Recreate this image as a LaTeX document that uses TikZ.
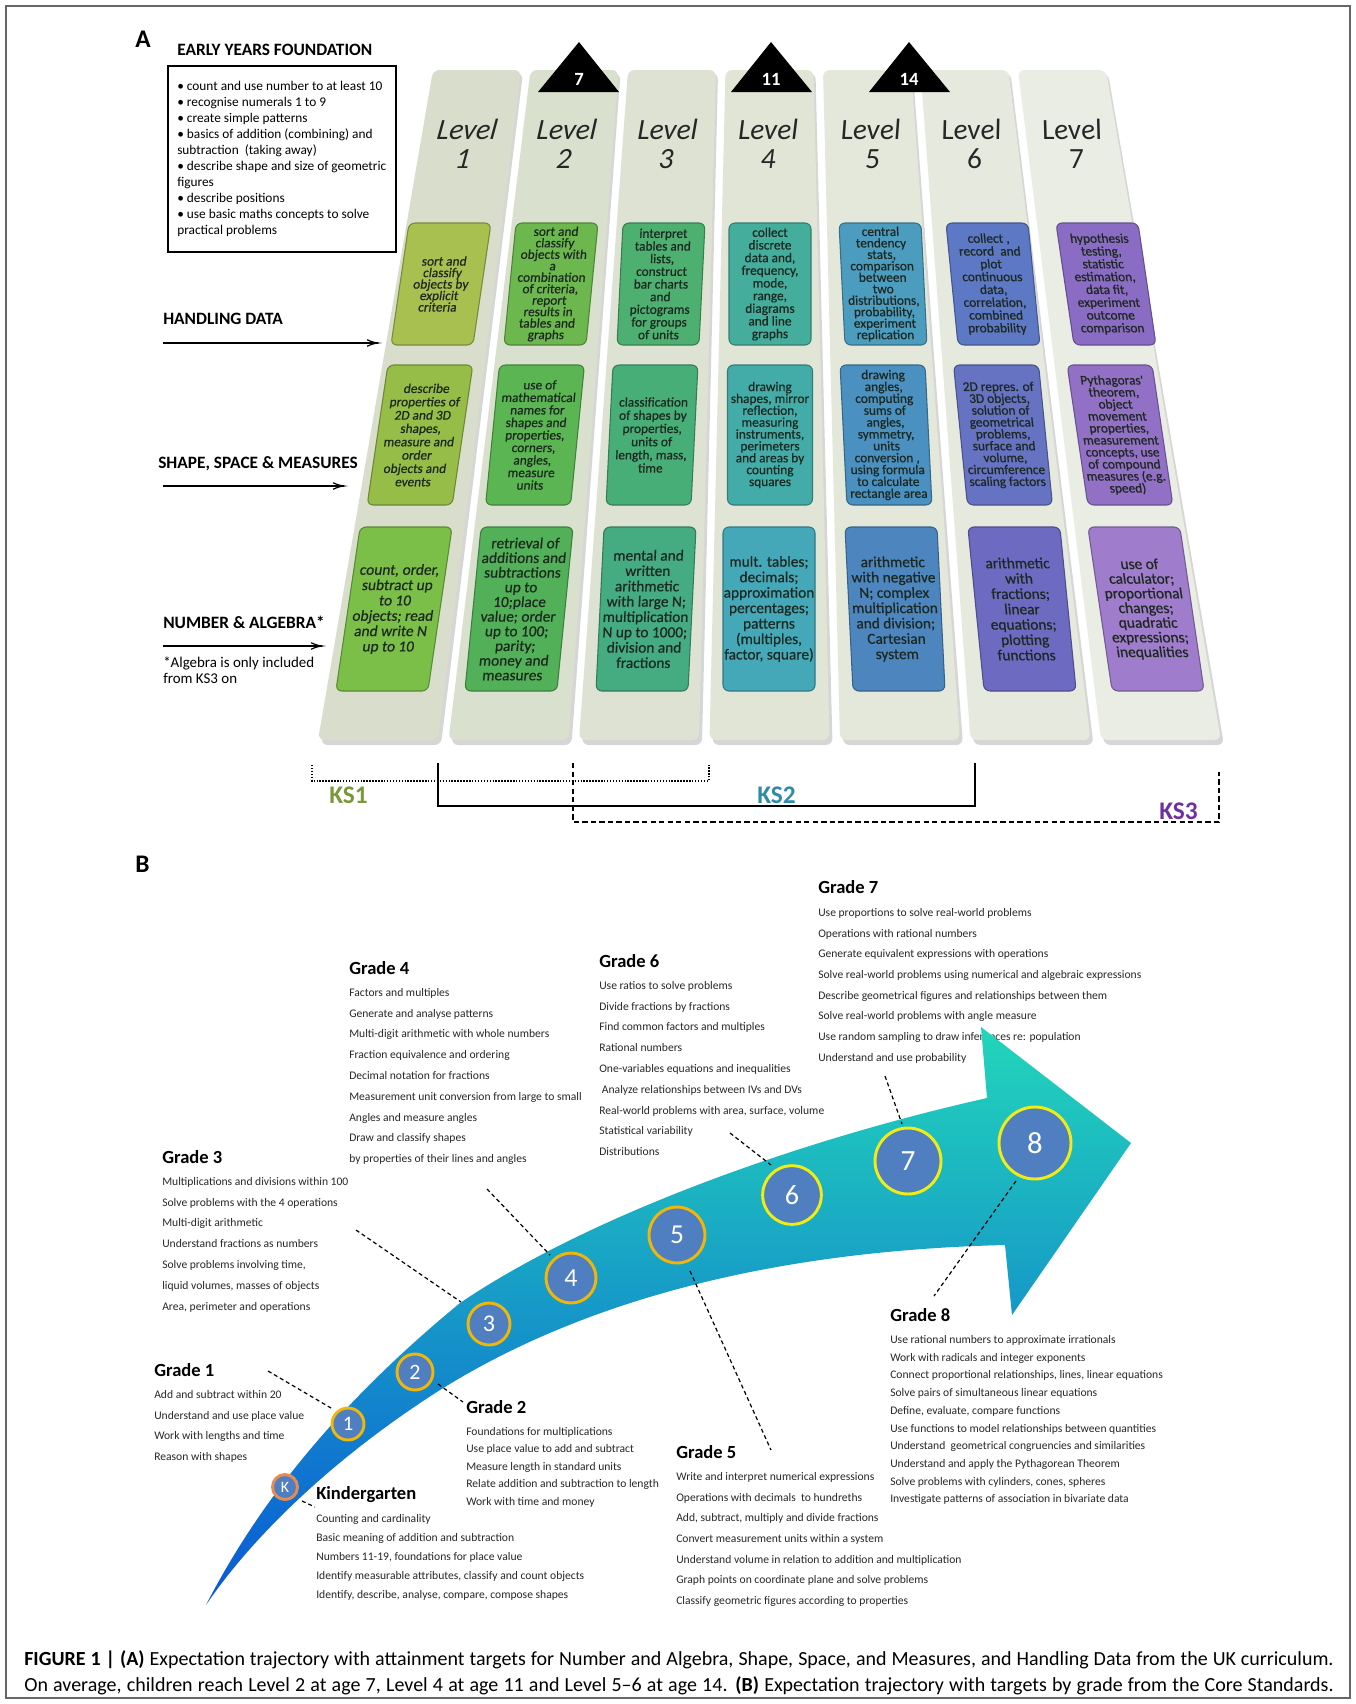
\documentclass[tikz,border=0pt]{standalone}
\usepackage{amssymb, mathtools, amsmath}
\usepackage{fontspec}
\setmainfont{Carlito}
\newfontfamily\boxfam[FakeBold=0.5]{Carlito}
\usepackage{tikz}

\newcommand{\bxfont}[2]{\fontsize{#1}{#2}\selectfont\lineskiplimit=-100pt\lineskip=0pt}

\definecolor{boxtext}{RGB}{28,40,32}
\definecolor{itemgray}{RGB}{40,40,40}
\definecolor{circfill}{RGB}{79,127,192}
\definecolor{ringgold}{RGB}{240,182,10}
\definecolor{ringlemon}{RGB}{240,236,20}
\definecolor{ringorange}{RGB}{230,140,80}
\definecolor{arrowtop}{RGB}{34,214,186}
\definecolor{arrowmid}{RGB}{18,172,228}
\definecolor{arrowbot}{RGB}{10,88,214}
\definecolor{ksone}{RGB}{122,154,58}
\definecolor{kstwo}{RGB}{46,140,168}
\definecolor{ksthree}{RGB}{112,48,160}
\definecolor{colone}{RGB}{216,222,203}
\definecolor{coltwo}{RGB}{218,224,206}
\definecolor{colthree}{RGB}{221,226,210}
\definecolor{colfour}{RGB}{224,229,214}
\definecolor{colfive}{RGB}{227,232,218}
\definecolor{colsix}{RGB}{230,234,222}
\definecolor{colseven}{RGB}{234,237,227}
\definecolor{hdc1}{RGB}{168,192,80}
\definecolor{hdc2}{RGB}{108,184,78}
\definecolor{hdc3}{RGB}{77,176,112}
\definecolor{hdc4}{RGB}{69,173,156}
\definecolor{hdc5}{RGB}{76,156,192}
\definecolor{hdc6}{RGB}{93,120,196}
\definecolor{hdc7}{RGB}{139,108,196}
\definecolor{ssc1}{RGB}{150,189,72}
\definecolor{ssc2}{RGB}{90,181,82}
\definecolor{ssc3}{RGB}{72,174,120}
\definecolor{ssc4}{RGB}{68,172,168}
\definecolor{ssc5}{RGB}{74,144,192}
\definecolor{ssc6}{RGB}{102,114,194}
\definecolor{ssc7}{RGB}{146,112,198}
\definecolor{nac1}{RGB}{124,191,72}
\definecolor{nac2}{RGB}{82,176,88}
\definecolor{nac3}{RGB}{69,171,128}
\definecolor{nac4}{RGB}{69,168,184}
\definecolor{nac5}{RGB}{77,134,191}
\definecolor{nac6}{RGB}{109,106,194}
\definecolor{nac7}{RGB}{160,124,204}

\begin{document}
\begin{tikzpicture}[x=0.75pt,y=0.75pt,yscale=-1,xscale=1,
  column/.style={fill=#1, rounded corners=5pt},
  colshadow/.style={fill=black!45, fill opacity=0.35, rounded corners=5pt},
  lvbox/.style={fill=#1, draw=#1!72!black, line width=0.8pt, rounded corners=4.5pt, inner sep=0pt, align=center, text=boxtext, execute at begin node=\boxfam},
  rowone/.style={minimum width=61.5pt, minimum height=91.5pt},
  rowtwo/.style={minimum width=63.75pt, minimum height=105pt},
  rowthree/.style={minimum width=69pt, minimum height=123pt},
  lvlabel/.style={anchor=north, inner sep=0pt, align=center, text=black!85, font=\itshape\bxfont{22}{21.75}},
  heading/.style={anchor=base west, inner sep=0pt, font=\bfseries\fontsize{13}{13}\selectfont},
  agenum/.style={text=white, inner sep=0pt, font=\bfseries\fontsize{14}{14}\selectfont},
  kslabel/.style={anchor=base west, inner sep=0pt, text=#1, font=\bfseries\fontsize{19}{19}\selectfont},
  gradehead/.style={anchor=base west, inner sep=0pt, font=\bfseries\fontsize{13.9}{14}\selectfont},
  gradelist/.style={anchor=north west, inner sep=0pt, align=left, text=itemgray, font=\bxfont{8.7}{#1}},
  gcirc/.style={circle, fill=circfill, draw=#1, line width=2.2pt, text=white, inner sep=0pt},
  leader/.style={dash pattern=on 3pt off 2.2pt, line width=0.9pt}
  ]
\useasboundingbox (0,0) rectangle (1356,1704);
\fill [white] (0,0) rectangle (1356,1704);
%Shape: Frame
\draw [color=black!60, line width=0.8pt] (6,6) rectangle (1350,1698);

% Panel A
\node [anchor=base west, inner sep=0pt, font=\bfseries\fontsize{19}{19}\selectfont] (labA) at (135,47) {A};
\node [heading] (eyfTitle) at (177,55.5) {EARLY YEARS FOUNDATION};
%Shape: Rectangle
\draw [line width=1.2pt] (168,66) rectangle (396,252);
% Text Node
\node [anchor=north west, inner sep=0pt, align=left, font=\bxfont{10}{12}] (eyfList) at (177,80.5) {• count and use number to at least 10\\• recognise numerals 1 to 9\\• create simple patterns\\• basics of addition (combining) and\\subtraction~ (taking away)\\• describe shape and size of geometric\\figures\\• describe positions\\• use basic maths concepts to solve\\practical problems};

%Shape: Columns
\fill [colshadow] (435,73) -- (523,73) -- (441,745) -- (321,745) -- cycle;
\fill [column=colone] (433,70) -- (521,70) -- (438,740) -- (318,740) -- cycle;
\fill [colshadow] (532.5,73) -- (620.5,73) -- (571.5,745) -- (451.5,745) -- cycle;
\fill [column=coltwo] (530.5,70) -- (618.5,70) -- (568.5,740) -- (448.5,740) -- cycle;
\fill [colshadow] (630,73) -- (718,73) -- (702,745) -- (582,745) -- cycle;
\fill [column=colthree] (628,70) -- (716,70) -- (699,740) -- (579,740) -- cycle;
\fill [colshadow] (727.5,73) -- (815.5,73) -- (832.5,745) -- (712.5,745) -- cycle;
\fill [column=colfour] (725.5,70) -- (813.5,70) -- (829.5,740) -- (709.5,740) -- cycle;
\fill [colshadow] (825,73) -- (913,73) -- (963,745) -- (843,745) -- cycle;
\fill [column=colfive] (823,70) -- (911,70) -- (960,740) -- (840,740) -- cycle;
\fill [colshadow] (922.5,73) -- (1010.5,73) -- (1093.5,745) -- (973.5,745) -- cycle;
\fill [column=colsix] (920.5,70) -- (1008.5,70) -- (1090.5,740) -- (970.5,740) -- cycle;
\fill [colshadow] (1020,73) -- (1108,73) -- (1224,745) -- (1104,745) -- cycle;
\fill [column=colseven] (1018,70) -- (1106,70) -- (1221,740) -- (1101,740) -- cycle;

%Shape: Triangles
\fill [black] (538,92) -- (579,42) -- (619,92) -- cycle;
\fill [black] (731,92) -- (771,42) -- (812,92) -- cycle;
\fill [black] (869,92) -- (909,42) -- (950,92) -- cycle;
\node [agenum] (ageSeven) at (579,79) {7};
\node [agenum] (ageEleven) at (771,79) {11};
\node [agenum] (ageFourteen) at (909,79) {14};

% Level labels
\node [lvlabel, xslant=0.148] (lv1) at (469,118.5) {Level\\1};
\node [lvlabel, xslant=0.099] (lv2) at (568,118.5) {Level\\2};
\node [lvlabel, xslant=0.049] (lv3) at (668,118.5) {Level\\3};
\node [lvlabel] (lv4) at (768,118.5) {Level\\4};
\node [lvlabel, xslant=-0.049] (lv5) at (870,118.5) {Level\\5};
\node [lvlabel, xslant=-0.099] (lv6) at (970,118.5) {Level\\6};
\node [lvlabel, xslant=-0.148] (lv7) at (1070,118.5) {Level\\7};

% Row labels
\node [heading] (hdTitle) at (163,324) {HANDLING DATA};
\node [heading] (ssTitle) at (158,468) {SHAPE, SPACE \& MEASURES};
\node [heading] (naTitle) at (163,628) {NUMBER \& ALGEBRA*};
\node [anchor=north west, inner sep=0pt, align=left, font=\bxfont{11.2}{12.4}] (naNote) at (163,656.5) {*Algebra is only included\\from KS3 on};
%Straight Lines
\coordinate (hdTail) at (163,343);
\coordinate (hdHead) at (378,343);
\draw [line width=0.9pt] (hdTail) -- (hdHead);
\draw [shift={(378,343)}, rotate = 180] [line width=0.9pt] (10.93,-3.29) .. controls (6.95,-1.4) and (3.31,-0.3) .. (0,0) .. controls (3.31,0.3) and (6.95,1.4) .. (10.93,3.29);
%Straight Lines
\coordinate (ssTail) at (163,486);
\coordinate (ssHead) at (344,486);
\draw [line width=0.9pt] (ssTail) -- (ssHead);
\draw [shift={(344,486)}, rotate = 180] [line width=0.9pt] (10.93,-3.29) .. controls (6.95,-1.4) and (3.31,-0.3) .. (0,0) .. controls (3.31,0.3) and (6.95,1.4) .. (10.93,3.29);
%Straight Lines
\coordinate (naTail) at (163,646);
\coordinate (naHead) at (322,646);
\draw [line width=0.9pt] (naTail) -- (naHead);
\draw [shift={(322,646)}, rotate = 180] [line width=0.9pt] (10.93,-3.29) .. controls (6.95,-1.4) and (3.31,-0.3) .. (0,0) .. controls (3.31,0.3) and (6.95,1.4) .. (10.93,3.29);

% Handling data boxes
\node [lvbox=hdc1, rowone, xslant=0.148, font=\bxfont{10}{8.6}] (hd1) at (441,284) {sort and\\classify\\objects by\\explicit\\criteria};
\node [lvbox=hdc2, rowone, xslant=0.099, font=\bxfont{10}{8.6}] (hd2) at (551,284) {sort and\\classify\\objects with\\a\\combination\\of criteria,\\report\\results in\\tables and\\graphs};
\node [lvbox=hdc3, rowone, xslant=0.049, font=\bxfont{10}{9.5}] (hd3) at (661,284) {interpret\\tables and\\lists,\\construct\\bar charts\\and\\pictograms\\for groups\\of units};
\node [lvbox=hdc4, rowone, font=\bxfont{10}{9.5}] (hd4) at (770,284) {collect\\discrete\\data and,\\frequency,\\mode,\\range,\\diagrams\\and line\\graphs};
\node [lvbox=hdc5, rowone, xslant=-0.049, font=\bxfont{10}{8.6}] (hd5) at (883,284) {central\\tendency\\stats,\\comparison\\between\\two\\distributions,\\probability,\\experiment\\replication};
\node [lvbox=hdc6, rowone, xslant=-0.099, font=\bxfont{10}{9.6}] (hd6) at (993,284) {collect ,\\record~ and\\plot\\continuous\\data,\\correlation,\\combined\\probability};
\node [lvbox=hdc7, rowone, xslant=-0.148, font=\bxfont{10}{9.6}] (hd7) at (1106,284) {hypothesis\\testing,\\statistic\\estimation,\\data fit,\\experiment\\outcome\\comparison};

% Shape, space and measures boxes
\node [lvbox=ssc1, rowtwo, xslant=0.148, font=\bxfont{10}{10}] (ss1) at (420,435) {describe\\properties of\\2D and 3D\\shapes,\\measure and\\order\\objects and\\events};
\node [lvbox=ssc2, rowtwo, xslant=0.099, font=\bxfont{10}{9.4}] (ss2) at (535,435) {use of\\mathematical\\names for\\shapes and\\properties,\\corners,\\angles,\\measure\\units};
\node [lvbox=ssc3, rowtwo, xslant=0.049, font=\bxfont{10}{9.9}] (ss3) at (652,435) {classification\\of shapes by\\properties,\\units of\\length, mass,\\time};
\node [lvbox=ssc4, rowtwo, font=\bxfont{10}{8.9}] (ss4) at (770,435) {drawing\\shapes, mirror\\reflection,\\measuring\\instruments,\\perimeters\\and areas by\\counting\\squares};
\node [lvbox=ssc5, rowtwo, xslant=-0.049, font=\bxfont{10}{8.9}] (ss5) at (886,435) {drawing\\angles,\\computing\\sums of\\angles,\\symmetry,\\units\\conversion ,\\using formula\\to calculate\\rectangle area};
\node [lvbox=ssc6, rowtwo, xslant=-0.099, font=\bxfont{10}{8.9}] (ss6) at (1003,435) {2D repres. of\\3D objects,\\solution of\\geometrical\\problems,\\surface and\\volume,\\circumference\\scaling factors};
\node [lvbox=ssc7, rowtwo, xslant=-0.148, font=\bxfont{10}{9}] (ss7) at (1120,435) {Pythagoras'\\theorem,\\object\\movement\\properties,\\measurement\\concepts, use\\of compound\\measures (e.g.\\speed)};

% Number and algebra boxes
\node [lvbox=nac1, rowthree, xslant=0.148, font=\bxfont{11.5}{11.5}] (na1) at (394,609) {count, order,\\subtract up\\to 10\\objects; read\\and write N\\up to 10};
\node [lvbox=nac2, rowthree, xslant=0.099, font=\bxfont{11.5}{11}] (na2) at (519,609) {retrieval of\\additions and\\subtractions\\up to\\10;place\\value; order\\up to 100;\\parity;\\money and\\measures};
\node [lvbox=nac3, rowthree, xslant=0.049, font=\bxfont{11.5}{11.5}] (na3) at (646,609) {mental and\\written\\arithmetic\\with large N;\\multiplication\\N up to 1000;\\division and\\fractions};
\node [lvbox=nac4, rowthree, font=\bxfont{11.5}{11.6}] (na4) at (769,609) {mult. tables;\\decimals;\\approximation\\percentages;\\patterns\\(multiples,\\factor, square)};
\node [lvbox=nac5, rowthree, xslant=-0.049, font=\bxfont{11.5}{11.5}] (na5) at (895,609) {arithmetic\\with negative\\N; complex\\multiplication\\and division;\\Cartesian\\system};
\node [lvbox=nac6, rowthree, xslant=-0.099, font=\bxfont{11.5}{11.5}] (na6) at (1022,609) {arithmetic\\with\\fractions;\\linear\\equations;\\plotting\\functions};
\node [lvbox=nac7, rowthree, xslant=-0.148, font=\bxfont{11.5}{11}] (na7) at (1146,609) {use of\\calculator;\\proportional\\changes;\\quadratic\\expressions;\\inequalities};

% Key stage brackets
\draw [dash pattern=on 1.1pt off 1.1pt, line width=1.4pt] (312,765) -- (312,781) -- (709,781) -- (709,765);
\draw [line width=1.3pt] (438,763) -- (438,806) -- (975,806) -- (975,763);
\draw [dash pattern=on 4pt off 2.4pt, line width=1.3pt] (573,763) -- (573,822) -- (1219,822) -- (1219,772);
\node [kslabel=ksone] (ksOne) at (329,803) {KS1};
\node [kslabel=kstwo] (ksTwo) at (757,803) {KS2};
\node [kslabel=ksthree] (ksThree) at (1159,819) {KS3};

% Panel B
\node [anchor=base west, inner sep=0pt, font=\bfseries\fontsize{19}{19}\selectfont] (labB) at (135,872) {B};

% Text Node
\node [gradehead] (gSevenHead) at (818,893) {Grade 7};
\node [gradelist=15.5] (gSevenList) at (818,908) {Use proportions to solve real-world problems\\Operations with rational numbers\\Generate equivalent expressions with operations\\Solve real-world problems using numerical and algebraic expressions\\Describe geometrical figures and relationships between them\\Solve real-world problems with angle measure\\Use random sampling to draw inferences re: population\\Understand and use probability};

%Shape: Arrow
\path [top color=arrowtop, middle color=arrowmid, bottom color=arrowbot] (206,1605) .. controls (255,1510) and (330,1410) .. (460,1303) .. controls (590,1215) and (800,1140) .. (987,1098) -- (981,1027) -- (1131,1143) -- (1012,1315) -- (1005,1245) .. controls (800,1250) and (600,1290) .. (440,1390) .. controls (330,1460) and (250,1540) .. (206,1605) -- cycle;

% Grade circles
\node [gcirc=ringorange, minimum size=18.75pt, font=\fontsize{12}{12}\selectfont] (gK) at (285,1487) {K};
\node [gcirc=ringgold, minimum size=24pt, font=\fontsize{15.5}{15.5}\selectfont] (g1) at (348,1424) {1};
\node [gcirc=ringgold, minimum size=27pt, font=\fontsize{16.5}{16.5}\selectfont] (g2) at (415,1372) {2};
\node [gcirc=ringgold, minimum size=31.5pt, font=\fontsize{18}{18}\selectfont] (g3) at (489,1324) {3};
\node [gcirc=ringgold, minimum size=37.5pt, font=\fontsize{19.5}{19.5}\selectfont] (g4) at (571,1278) {4};
\node [gcirc=ringgold, minimum size=42pt, font=\fontsize{20.5}{20.5}\selectfont] (g5) at (677,1235) {5};
\node [gcirc=ringlemon, minimum size=44pt, font=\fontsize{21}{21}\selectfont] (g6) at (792,1195) {6};
\node [gcirc=ringlemon, minimum size=49.5pt, font=\fontsize{22}{22}\selectfont] (g7) at (908,1161) {7};
\node [gcirc=ringlemon, minimum size=54pt, font=\fontsize{23}{23}\selectfont] (g8) at (1035,1143) {8};

% Text Node
\node [gradehead] (gFourHead) at (349,974) {Grade 4};
\node [gradelist=15.6] (gFourList) at (349,988) {Factors and multiples\\Generate and analyse patterns\\Multi-digit arithmetic with whole numbers\\Fraction equivalence and ordering\\Decimal notation for fractions\\Measurement unit conversion from large to small\\Angles and measure angles\\Draw and classify shapes\\by properties of their lines and angles};
% Text Node
\node [gradehead] (gThreeHead) at (162,1163) {Grade 3};
\node [gradelist=15.6] (gThreeList) at (162,1177) {Multiplications and divisions within 100\\Solve problems with the 4 operations\\Multi-digit arithmetic\\Understand fractions as numbers\\Solve problems involving time,\\liquid volumes, masses of objects\\Area, perimeter and operations};
% Text Node
\node [gradehead] (gSixHead) at (599,967) {Grade 6};
\node [gradelist=15.6] (gSixList) at (599,981) {Use ratios to solve problems\\Divide fractions by fractions\\Find common factors and multiples\\Rational numbers\\One-variables equations and inequalities\\\ Analyze relationships between IVs and DVs\\Real-world problems with area, surface, volume\\Statistical variability\\Distributions};
% Text Node
\node [gradehead] (gOneHead) at (154,1376) {Grade 1};
\node [gradelist=15.5] (gOneList) at (154,1390) {Add and subtract within 20\\Understand and use place value\\Work with lengths and time\\Reason with shapes};
% Text Node
\node [gradehead] (gTwoHead) at (466,1413) {Grade 2};
\node [gradelist=13.1] (gTwoList) at (466,1427) {Foundations for multiplications\\Use place value to add and subtract\\Measure length in standard units\\Relate addition and subtraction to length\\Work with time and money};
% Text Node
\node [gradehead] (gKHead) at (316,1499) {Kindergarten};
\node [gradelist=14.25] (gKList) at (316,1514) {Counting and cardinality\\Basic meaning of addition and subtraction\\Numbers 11-19, foundations for place value\\Identify measurable attributes, classify and count objects\\Identify, describe, analyse, compare, compose shapes};
% Text Node
\node [gradehead] (gFiveHead) at (676,1458) {Grade 5};
\node [gradelist=15.5] (gFiveList) at (676,1472) {Write and interpret numerical expressions\\Operations with decimals~ to hundreths\\Add, subtract, multiply and divide fractions\\Convert measurement units within a system\\Understand volume in relation to addition and multiplication\\Graph points on coordinate plane and solve problems\\Classify geometric figures according to properties};
% Text Node
\node [gradehead] (gEightHead) at (890,1321) {Grade 8};
\node [gradelist=13.3] (gEightList) at (890,1335) {Use rational numbers to approximate irrationals\\Work with radicals and integer exponents\\Connect proportional relationships, lines, linear equations\\Solve pairs of simultaneous linear equations\\Define, evaluate, compare functions\\Use functions to model relationships between quantities\\Understand~ geometrical congruencies and similarities\\Understand and apply the Pythagorean Theorem\\Solve problems with cylinders, cones, spheres\\Investigate patterns of association in bivariate data};

%Straight Lines: leaders
\coordinate (kA) at (302,1501);  \coordinate (kB) at (315,1507);
\coordinate (oneA) at (268,1371); \coordinate (oneB) at (331,1408);
\coordinate (twoA) at (438,1384); \coordinate (twoB) at (463,1402);
\coordinate (threeA) at (356,1230); \coordinate (threeB) at (461,1302);
\coordinate (fourA) at (487,1189); \coordinate (fourB) at (550,1255);
\coordinate (fiveA) at (690,1271); \coordinate (fiveB) at (771,1450);
\coordinate (sixA) at (730,1133); \coordinate (sixB) at (771,1165);
\coordinate (sevenA) at (885,1076); \coordinate (sevenB) at (902,1124);
\coordinate (eightA) at (1016,1181); \coordinate (eightB) at (934,1296);
\draw [leader] (kA) -- (kB);
\draw [leader] (oneA) -- (oneB);
\draw [leader] (twoA) -- (twoB);
\draw [leader] (threeA) -- (threeB);
\draw [leader] (fourA) -- (fourB);
\draw [leader] (fiveA) -- (fiveB);
\draw [leader] (sixA) -- (sixB);
\draw [leader] (sevenA) -- (sevenB);
\draw [leader] (eightA) -- (eightB);

% Caption
\node [anchor=base west, inner sep=0pt, font=\fontsize{15}{15}\selectfont] (capOne) at (24,1665) {\makebox[982pt][s]{\textbf{FIGURE 1 | (A)} Expectation trajectory with attainment targets for Number and Algebra, Shape, Space, and Measures, and Handling Data from the UK curriculum.}};
\node [anchor=base west, inner sep=0pt, font=\fontsize{15}{15}\selectfont] (capTwo) at (24,1691) {\makebox[982pt][s]{On average, children reach Level 2 at age 7, Level 4 at age 11 and Level 5–6 at age 14. \textbf{(B)} Expectation trajectory with targets by grade from the Core Standards.}};

\end{tikzpicture}
\end{document}
